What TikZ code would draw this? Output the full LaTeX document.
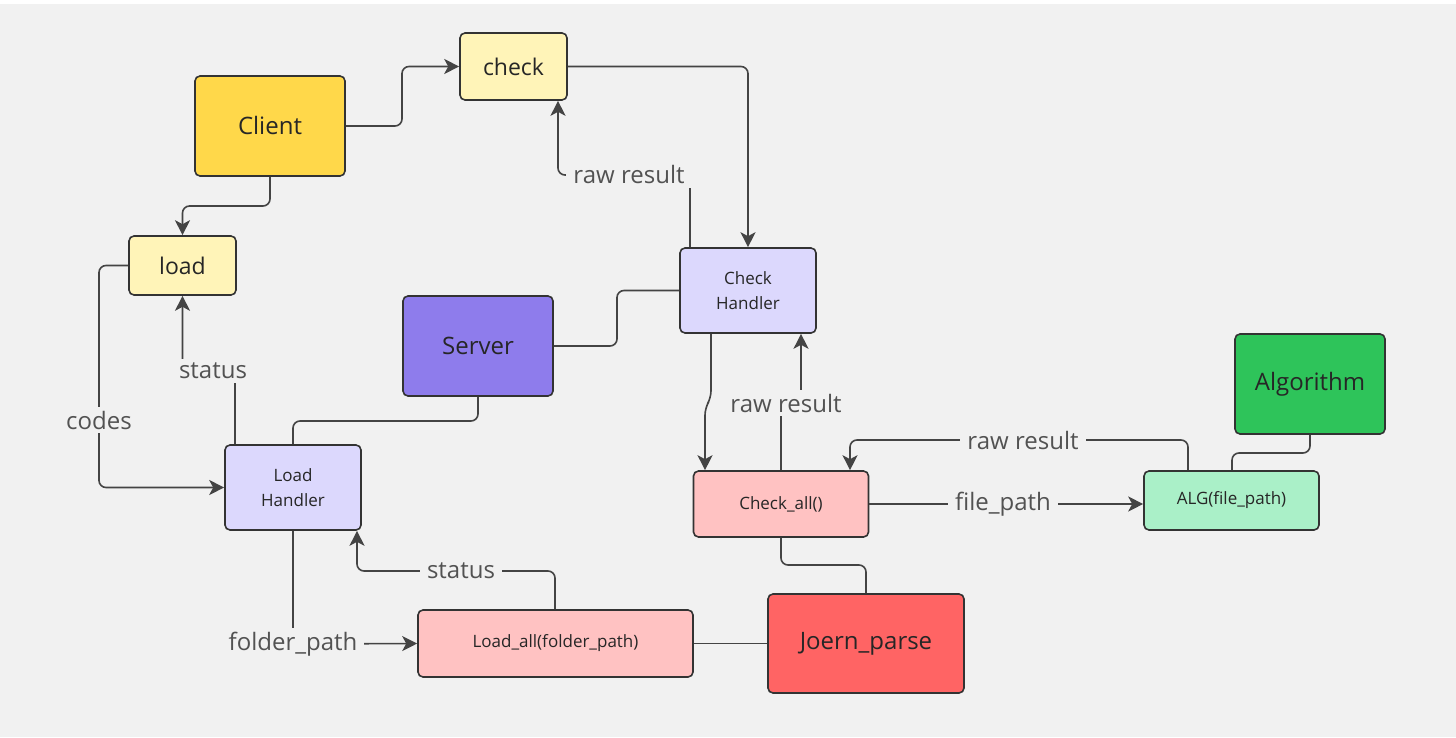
\documentclass[tikz,border=0pt]{standalone}
\usepackage{fontspec}
\setmainfont{Open Sans}
\usetikzlibrary{arrows.meta}

\definecolor{bgc}{HTML}{F1F1F1}
\definecolor{edgec}{HTML}{444444}
\definecolor{framec}{HTML}{333333}
\definecolor{textc}{HTML}{262626}
\definecolor{labc}{HTML}{525252}
\definecolor{paleyellow}{HTML}{FFF4B8}
\definecolor{gold}{HTML}{FFD84A}
\definecolor{violet}{HTML}{8E7CEC}
\definecolor{lavender}{HTML}{DCD8FD}
\definecolor{rosepink}{HTML}{FFC2C2}
\definecolor{coral}{HTML}{FF6464}
\definecolor{mint}{HTML}{AAF0C8}
\definecolor{leaf}{HTML}{2EC45A}

\tikzset{
  box/.style={draw=framec, line width=1.6pt, rounded corners=5pt,
    text=textc, align=center, inner sep=0pt},
  bigbox/.style={box, minimum width=150pt, minimum height=100pt, font=\fontsize{24}{28}\selectfont},
  apibox/.style={box, minimum width=107pt, font=\fontsize{23}{27}\selectfont},
  handlerbox/.style={box, fill=lavender, minimum width=136pt, minimum height=85pt,
    font=\fontsize{17}{25}\selectfont},
  funcbox/.style={box, font=\fontsize{17}{21}\selectfont},
  wire/.style={draw=edgec, line width=1.6pt, rounded corners=7pt},
  arrowwire/.style={wire, -{Stealth[length=15pt, width=15pt, inset=4pt]}},
  lab/.style={fill=bgc, text=labc, inner xsep=7pt, inner ysep=4pt,
    font=\fontsize{24}{28}\selectfont},
}

\begin{document}
\begin{tikzpicture}[x=1pt, y=-1pt]
  % canvas
  \fill[white] (0,0) rectangle (1456,738);
  \fill[bgc] (0,4) rectangle (1456,737);
  \useasboundingbox (0,0) rectangle (1456,738);

  % boxes
  \node[apibox, fill=paleyellow, minimum height=67pt] (check) at (513.5,66.5) {check};
  \node[bigbox, fill=gold] (client) at (270,126) {Client};
  \node[apibox, fill=paleyellow, minimum height=59pt] (load) at (182.5,265.5) {load};
  \node[bigbox, fill=violet] (server) at (478,346) {Server};
  \node[handlerbox] (chkh) at (748,290.5) {Check\\Handler};
  \node[handlerbox] (ldh) at (293,487.5) {Load\\Handler};
  \node[funcbox, fill=rosepink, minimum width=175pt, minimum height=66pt] (checkall) at (781,504) {Check\_all()};
  \node[funcbox, fill=mint, minimum width=175pt, minimum height=59pt] (alg) at (1231.5,500.5) {ALG(file\_path)};
  \node[bigbox, fill=leaf] (algorithm) at (1310,384) {Algorithm};
  \node[funcbox, fill=rosepink, minimum width=275pt, minimum height=67pt] (loadall) at (555.5,643.5) {Load\_all(folder\_path)};
  \node[bigbox, fill=coral, minimum width=196pt, minimum height=99pt] (joern) at (866,643.5) {Joern\_parse};

  % connectors
  \draw[arrowwire] (client.east) -- (402,126) -- (402,66.5) -- (check.west);
  \draw[arrowwire] (client.south) -- (270,206) -- (182.5,206) -- (load.north);
  \draw[arrowwire] (check.east) -| (chkh.north);
  \draw[arrowwire] (690,0 |- chkh.north) -- (690,175) -- (558,175) -- (558,0 |- check.south);
  \draw[wire] (server.east) -- (617,346) -- (617,290.5) -- (chkh.west);
  \draw[wire] (server.south) -- (478,421) -- (293,421) -- (ldh.north);
  \draw[arrowwire] (235,0 |- ldh.north) -- (235,371) -- (182.5,371) -- (load.south);
  \draw[arrowwire] (load.west) -- (99,265.5) -- (99,487.5) -- (ldh.west);
  \draw[arrowwire] (ldh.south) -- (293,644) -- (loadall.west);
  \draw[arrowwire] (555,0 |- loadall.north) -- (555,571) -- (357,571) -- (357,0 |- ldh.south);
  \draw[wire] (loadall.east) -- (joern.west);
  \draw[arrowwire] (711,0 |- chkh.south) -- (711,398) -- (705,408) -- (705,0 |- checkall.north);
  \draw[arrowwire] (781,0 |- checkall.north) -- (781,403) -- (801,403) -- (801,0 |- chkh.south);
  \draw[wire] (checkall.south) -- (781,565) -- (866,565) -- (joern.north);
  \draw[arrowwire] (1188,0 |- alg.north) -- (1188,440) -- (850,440) -- (850,0 |- checkall.north);
  \draw[arrowwire] (checkall.east) -- (alg.west |- checkall.east);
  \draw[wire] (algorithm.south) -- (1310,453) -- (1232,453) -- (1232,0 |- alg.north);

  % connector labels
  \node[lab] (lraw1) at (629,175) {raw result};
  \node[lab] (lstat1) at (213,371) {status};
  \node[lab] (lcodes) at (99,420) {codes};
  \node[lab] (lfolder) at (293,644) {folder\_path};
  \node[lab] (lstat2) at (461,571) {status};
  \node[lab] (lraw2) at (786,403) {raw result};
  \node[lab] (lraw3) at (1023,440) {raw result};
  \node[lab] (lfile) at (1003,504) {file\_path};
\end{tikzpicture}
\end{document}
